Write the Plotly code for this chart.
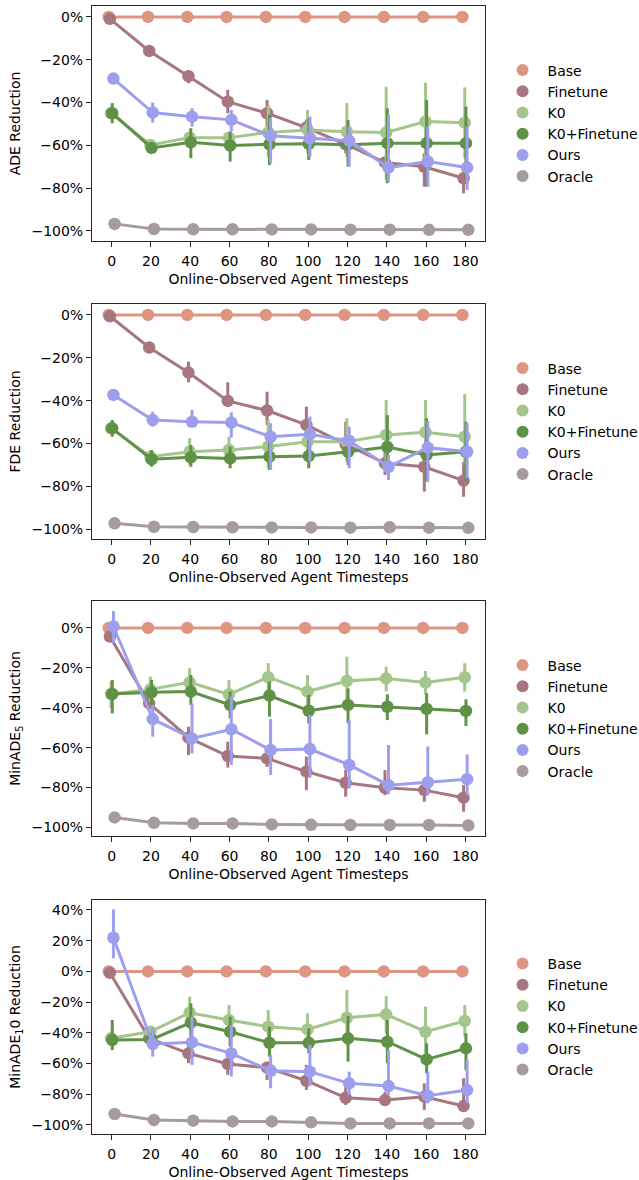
import plotly.graph_objects as go

# ---------------- data ----------------
timesteps = [0, 20, 40, 60, 80, 100, 120, 140, 160, 180]
methods = ["Base", "Finetune", "K0", "K0+Finetune", "Ours", "Oracle"]
colors = {
    "Base": "#DE9682",
    "Finetune": "#A7767F",
    "K0": "#A4C58C",
    "K0+Finetune": "#5F9247",
    "Ours": "#9E9EEE",
    "Oracle": "#A69BA0",
}
y_titles = ["ADE Reduction", "FDE Reduction", "MinADE<sub>5</sub> Reduction", "MinADE<sub>1</sub>0 Reduction"]
x_title = "Online-Observed Agent Timesteps"
y_ticks_std = [0, -20, -40, -60, -80, -100]
y_ticks_last = [40, 20, 0, -20, -40, -60, -80, -100]

# ADE (mean, lower, upper in %)
ADE_MEAN = {
    "Base": [0, 0, 0, 0, 0, 0, 0, 0, 0, 0],
    "Finetune": [-0.9, -15.9, -27.7, -39.6, -45.0, -51.7, -59.5, -68.0, -70.0, -75.4],
    "K0": [-45.0, -59.8, -56.4, -56.4, -54.0, -52.8, -53.6, -54.0, -48.9, -49.4],
    "K0+Finetune": [-45.0, -61.2, -58.6, -60.1, -59.5, -59.3, -59.7, -59.0, -59.0, -59.0],
    "Ours": [-28.8, -44.7, -46.6, -48.1, -55.5, -56.7, -57.9, -70.4, -67.6, -70.4],
    "Oracle": [-96.7, -99.1, -99.2, -99.2, -99.3, -99.3, -99.4, -99.4, -99.5, -99.5],
}
ADE_LO = {
    "Base": [0, 0, 0, 0, 0, 0, 0, 0, 0, 0],
    "Finetune": [-1.5, -17.0, -31.0, -45.0, -51.2, -56.0, -63.7, -70.0, -79.3, -82.4],
    "K0": [-47.0, -62.0, -59.0, -59.0, -65.3, -63.7, -65.3, -76.2, -66.8, -66.0],
    "K0+Finetune": [-49.7, -63.0, -66.0, -67.6, -69.2, -66.8, -70.0, -77.7, -79.3, -76.2],
    "Ours": [-30.0, -49.4, -51.2, -53.6, -68.4, -65.3, -70.0, -77.0, -79.3, -80.8],
    "Oracle": [-97.3, -99.4, -99.5, -99.5, -99.6, -99.6, -99.7, -99.7, -99.8, -99.8],
}
ADE_HI = {
    "Base": [0, 0, 0, 0, 0, 0, 0, 0, 0, 0],
    "Finetune": [-0.3, -14.8, -25.1, -34.1, -38.8, -48.0, -55.0, -65.3, -63.7, -70.0],
    "K0": [-43.0, -58.0, -53.6, -54.0, -41.1, -43.5, -40.3, -32.6, -30.7, -32.9],
    "K0+Finetune": [-40.3, -59.0, -52.0, -53.6, -45.8, -47.4, -48.1, -42.7, -38.8, -41.9],
    "Ours": [-27.5, -40.0, -42.7, -43.5, -47.4, -46.6, -51.2, -45.8, -51.2, -51.2],
    "Oracle": [-96.1, -98.8, -98.9, -98.9, -99.0, -99.0, -99.1, -99.1, -99.2, -99.2],
}

# FDE
FDE_MEAN = {
    "Base": [0, 0, 0, 0, 0, 0, 0, 0, 0, 0],
    "Finetune": [-0.6, -15.2, -26.9, -40.1, -44.6, -51.3, -60.3, -69.2, -70.8, -77.3],
    "K0": [-52.9, -66.1, -63.8, -63.0, -61.4, -59.1, -59.1, -56.0, -54.7, -56.8],
    "K0+Finetune": [-52.9, -67.3, -66.4, -66.9, -66.1, -65.8, -63.8, -61.6, -65.3, -63.8],
    "Ours": [-37.3, -49.0, -49.8, -50.2, -56.8, -55.7, -58.8, -70.8, -61.9, -63.8],
    "Oracle": [-97.2, -98.8, -98.9, -99.0, -99.1, -99.1, -99.2, -99.0, -99.2, -99.3],
}
FDE_LO = {
    "Base": [0, 0, 0, 0, 0, 0, 0, 0, 0, 0],
    "Finetune": [-1.2, -16.3, -31.4, -42.8, -51.3, -59.1, -63.8, -74.6, -82.4, -84.8],
    "K0": [-55.0, -68.0, -70.0, -69.2, -71.5, -68.4, -68.4, -70.0, -68.4, -70.0],
    "K0+Finetune": [-56.8, -70.8, -70.8, -71.5, -72.3, -71.5, -70.0, -73.1, -77.8, -77.8],
    "Ours": [-40.1, -52.1, -52.1, -57.2, -72.3, -68.4, -71.5, -77.0, -77.8, -76.2],
    "Oracle": [-97.8, -99.1, -99.2, -99.3, -99.4, -99.4, -99.5, -99.3, -99.5, -99.6],
}
FDE_HI = {
    "Base": [0, 0, 0, 0, 0, 0, 0, 0, 0, 0],
    "Finetune": [0.0, -14.1, -21.8, -31.4, -35.8, -42.8, -49.8, -63.8, -62.2, -68.4],
    "K0": [-51.0, -64.0, -57.5, -56.8, -49.0, -52.9, -48.2, -39.7, -39.7, -36.9],
    "K0+Finetune": [-49.0, -63.0, -60.7, -61.4, -56.0, -57.5, -57.5, -46.7, -48.2, -49.8],
    "Ours": [-35.0, -45.1, -44.3, -45.4, -50.5, -47.4, -52.1, -65.3, -49.5, -50.5],
    "Oracle": [-96.6, -98.5, -98.6, -98.7, -98.8, -98.8, -98.9, -98.7, -98.9, -99.0],
}

# MinADE_5
MINADE5_MEAN = {
    "Base": [0, 0, 0, 0, 0, 0, 0, 0, 0, 0],
    "Finetune": [-4.3, -37.8, -55.0, -64.2, -65.4, -72.0, -77.6, -80.1, -81.3, -85.1],
    "K0": [-33.1, -30.8, -27.3, -33.3, -24.7, -31.9, -26.6, -25.3, -27.4, -24.7],
    "K0+Finetune": [-33.1, -32.3, -31.9, -38.6, -33.9, -41.5, -38.6, -39.5, -40.6, -41.6],
    "Ours": [0.7, -45.7, -55.4, -50.8, -61.2, -60.7, -68.7, -78.8, -77.4, -75.8],
    "Oracle": [-95.0, -97.7, -98.0, -98.0, -98.5, -98.7, -98.8, -98.8, -98.8, -99.0],
}
MINADE5_LO = {
    "Base": [0, 0, 0, 0, 0, 0, 0, 0, 0, 0],
    "Finetune": [-5.8, -40.0, -63.7, -70.0, -69.6, -81.3, -84.6, -83.8, -87.1, -92.1],
    "K0": [-40.0, -37.0, -33.6, -40.3, -31.9, -40.3, -38.6, -31.9, -33.3, -31.9],
    "K0+Finetune": [-42.8, -38.6, -38.6, -45.3, -44.5, -47.8, -47.8, -46.2, -53.3, -49.2],
    "Ours": [-7.7, -54.5, -62.9, -68.7, -73.7, -75.1, -80.4, -83.4, -83.8, -83.8],
    "Oracle": [-95.6, -98.1, -98.4, -98.4, -98.9, -99.1, -99.2, -99.2, -99.2, -99.4],
}
MINADE5_HI = {
    "Base": [0, 0, 0, 0, 0, 0, 0, 0, 0, 0],
    "Finetune": [-2.8, -35.6, -49.5, -57.0, -61.2, -64.5, -71.2, -71.2, -77.9, -78.8],
    "K0": [-27.0, -24.4, -20.2, -26.1, -17.7, -23.6, -14.4, -19.4, -21.6, -17.7],
    "K0+Finetune": [-26.1, -26.1, -23.6, -31.9, -26.9, -33.6, -30.3, -33.3, -32.8, -35.8],
    "Ours": [8.5, -38.6, -37.8, -34.4, -45.7, -43.6, -46.2, -58.7, -59.5, -63.4],
    "Oracle": [-94.4, -97.3, -97.6, -97.6, -98.1, -98.3, -98.4, -98.4, -98.4, -98.6],
}

# MinADE_10
MINADE10_MEAN = {
    "Base": [0, 0, 0, 0, 0, 0, 0, 0, 0, 0],
    "Finetune": [-0.9, -43.6, -53.4, -60.3, -62.7, -71.2, -82.3, -83.8, -81.6, -87.7],
    "K0": [-43.6, -39.3, -26.9, -31.7, -36.0, -37.8, -30.2, -28.0, -39.3, -32.3],
    "K0+Finetune": [-44.7, -44.3, -33.4, -39.3, -46.5, -46.5, -43.6, -45.8, -57.3, -50.1],
    "Ours": [21.9, -47.3, -46.2, -53.4, -64.7, -65.3, -72.9, -74.7, -81.0, -77.3],
    "Oracle": [-92.9, -96.8, -97.2, -97.7, -97.7, -98.3, -99.0, -99.0, -99.0, -99.0],
}
MINADE10_LO = {
    "Base": [0, 0, 0, 0, 0, 0, 0, 0, 0, 0],
    "Finetune": [-2.0, -46.0, -59.8, -67.4, -70.7, -77.2, -87.0, -85.9, -90.2, -91.3],
    "K0": [-48.0, -42.0, -37.1, -40.3, -46.8, -46.8, -47.9, -40.3, -53.3, -42.5],
    "K0+Finetune": [-51.2, -48.0, -42.5, -49.0, -55.5, -53.3, -58.8, -59.8, -66.4, -64.2],
    "Ours": [8.5, -55.5, -60.9, -68.5, -76.1, -74.6, -80.5, -80.5, -85.9, -85.9],
    "Oracle": [-93.8, -97.4, -97.8, -98.3, -98.3, -98.9, -99.5, -99.5, -99.5, -99.5],
}
MINADE10_HI = {
    "Base": [0, 0, 0, 0, 0, 0, 0, 0, 0, 0],
    "Finetune": [0.2, -41.0, -47.9, -55.5, -58.8, -60.9, -75.0, -78.3, -72.9, -69.6],
    "K0": [-40.0, -37.0, -16.4, -21.9, -25.1, -27.3, -12.1, -16.0, -22.9, -21.9],
    "K0+Finetune": [-31.6, -40.0, -20.8, -29.5, -36.0, -37.1, -29.0, -31.6, -46.8, -40.3],
    "Ours": [40.4, -36.4, -29.5, -34.9, -54.4, -47.9, -65.3, -51.2, -65.3, -57.7],
    "Oracle": [-92.0, -96.2, -96.6, -97.1, -97.1, -97.7, -98.5, -98.5, -98.5, -98.5],
}

panels = [
    (ADE_MEAN, ADE_LO, ADE_HI, y_ticks_std, [-104.7, 5.1]),
    (FDE_MEAN, FDE_LO, FDE_HI, y_ticks_std, [-104.5, 5.1]),
    (MINADE5_MEAN, MINADE5_LO, MINADE5_HI, y_ticks_std, [-104.3, 13.5]),
    (MINADE10_MEAN, MINADE10_LO, MINADE10_HI, y_ticks_last, [-105.9, 46.5]),
]

# ---------------- layout geometry ----------------
W, H = 639, 1180
ML, MR, MT, MB = 92, 154, 6, 46
plot_h = H - MT - MB
panel_px = [(6, 241), (304, 539), (601, 836), (900, 1134)]

def to_paper(py):
    return (H - MB - py) / plot_h

FONT = "DejaVu Sans"
FS = 14
TXT = "#000000"
AX = "#262626"

n_h = len(methods)
dodge = 0.025 * n_h
offsets = [-dodge / 2 + i * dodge / (n_h - 1) for i in range(n_h)]

fig = go.Figure()
layout = dict(
    width=W, height=H,
    margin=dict(l=ML, r=MR, t=MT, b=MB, pad=0, autoexpand=False),
    paper_bgcolor="white", plot_bgcolor="white",
    font=dict(family=FONT, size=FS, color=TXT),
    showlegend=True,
)

for p, (mean, lo, hi, yt, yr) in enumerate(panels):
    ax_suffix = "" if p == 0 else str(p + 1)
    xref = "x" + ax_suffix
    yref = "y" + ax_suffix
    leg = "legend" if p == 0 else "legend" + str(p + 1)
    top, bot = panel_px[p]
    for k, m in enumerate(methods):
        xs = [i + offsets[k] for i in range(len(timesteps))]
        ys = mean[m]
        plus = [h - v for h, v in zip(hi[m], ys)]
        minus = [v - l for v, l in zip(ys, lo[m])]
        fig.add_trace(go.Scatter(
            x=xs, y=ys, mode="lines+markers", name=m,
            line=dict(color=colors[m], width=3),
            marker=dict(color=colors[m], size=12.5),
            error_y=dict(type="data", symmetric=False, array=plus, arrayminus=minus,
                         color=colors[m], thickness=3, width=0),
            xaxis=xref, yaxis=yref, showlegend=False, hoverinfo="skip",
        ))
    # legend-only marker entries
    for m in methods:
        fig.add_trace(go.Scatter(
            x=[None], y=[None], mode="markers", name=m,
            marker=dict(color=colors[m], size=12),
            xaxis=xref, yaxis=yref, legend=leg, showlegend=True,
        ))
    xa = dict(
        domain=[0, 1], range=[-0.5, len(timesteps) - 0.5],
        tickmode="array", tickvals=list(range(len(timesteps))),
        ticktext=[str(t) for t in timesteps],
        ticks="outside", ticklen=5, tickwidth=1, tickcolor=AX,
        ticklabelstandoff=2,
        showline=True, linecolor=AX, linewidth=1, mirror=True,
        showgrid=False, zeroline=False,
        title=dict(text=x_title, standoff=6, font=dict(size=FS)),
        tickfont=dict(size=FS), anchor=yref,
        automargin=False,
    )
    ya = dict(
        domain=[to_paper(bot), to_paper(top)], range=yr,
        tickmode="array", tickvals=yt,
        ticktext=[("\u2212" + str(-v) if v < 0 else str(v)) + "%" for v in yt],
        ticks="outside", ticklen=5, tickwidth=1, tickcolor=AX,
        showline=True, linecolor=AX, linewidth=1, mirror=True,
        showgrid=False, zeroline=False,
        title=dict(text=y_titles[p], standoff=7, font=dict(size=FS)),
        tickfont=dict(size=FS), anchor=xref,
        automargin=False,
    )
    layout["xaxis" + ax_suffix] = xa
    layout["yaxis" + ax_suffix] = ya
    layout[leg] = dict(
        x=1.032, xanchor="left",
        y=(to_paper(top) + to_paper(bot)) / 2, yanchor="middle",
        bgcolor="rgba(0,0,0,0)", borderwidth=0,
        font=dict(family=FONT, size=FS, color=TXT),
        itemsizing="constant", itemwidth=40,
    )

fig.update_layout(**layout)
fig.write_html("out.html", config={"displayModeBar": False},
               post_script="document.body.style.margin='0';document.body.style.padding='0';")
